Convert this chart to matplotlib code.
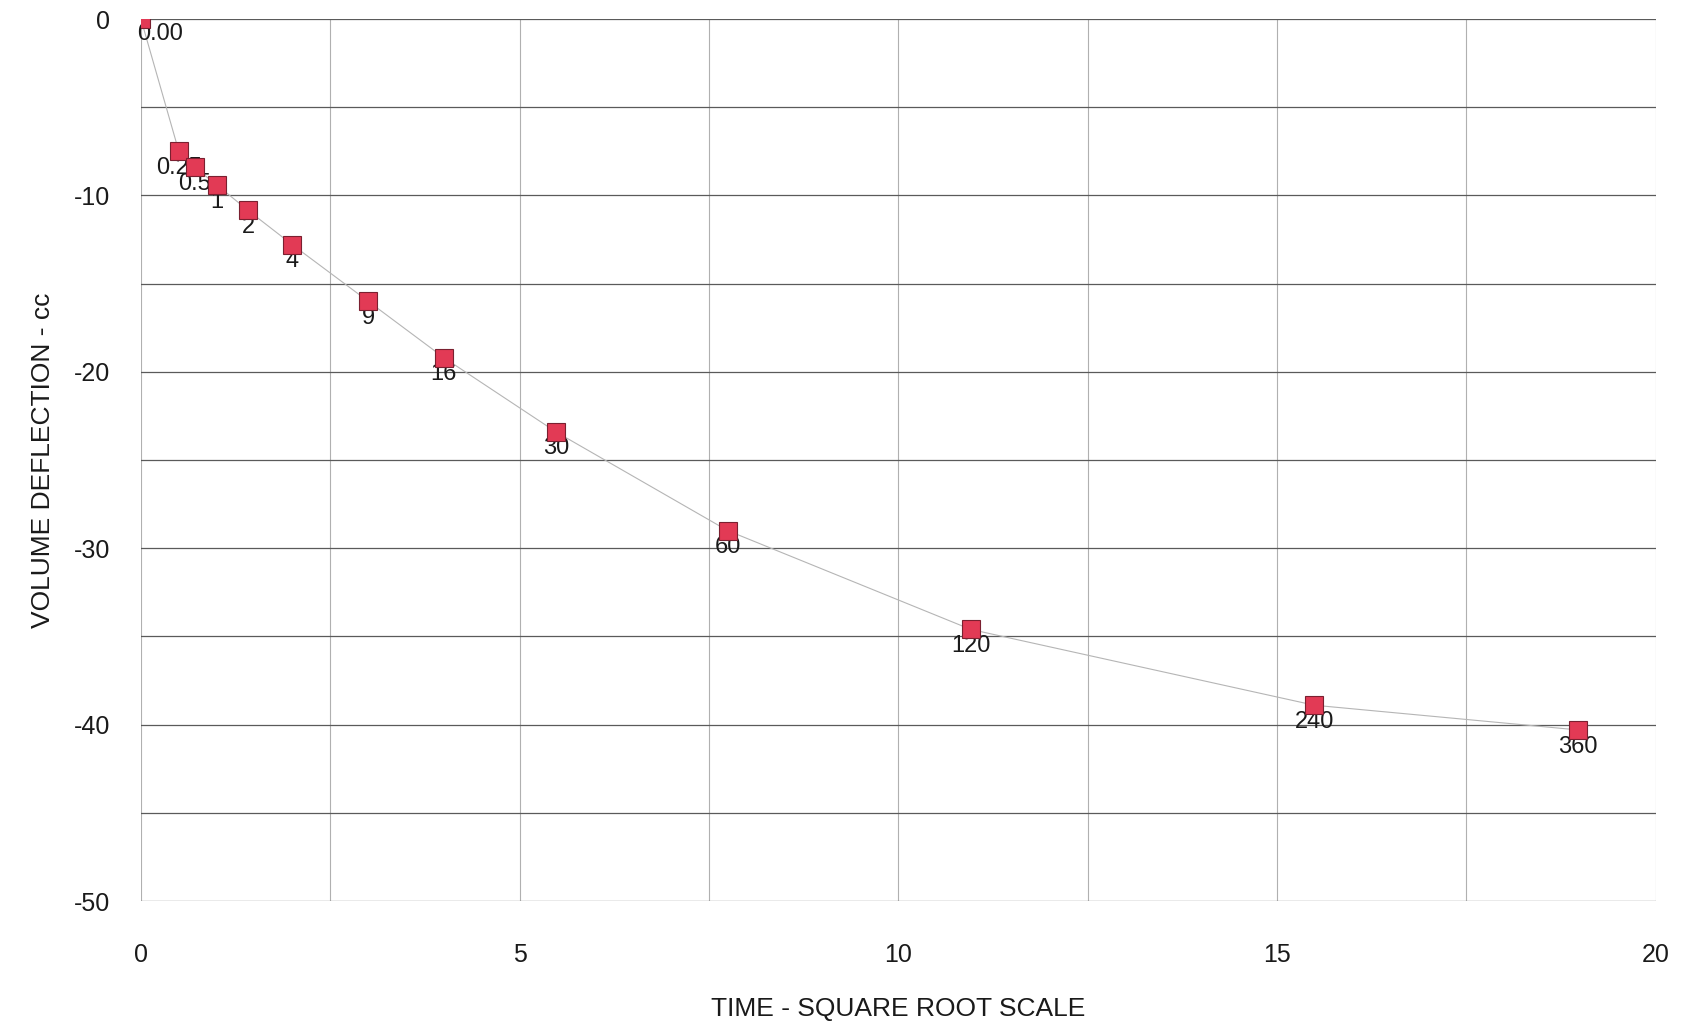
import numpy as np
import matplotlib.pyplot as plt

plt.rcParams['font.family'] = ['Liberation Sans', 'DejaVu Sans']
plt.rcParams['axes.unicode_minus'] = False

# elapsed time (min) and volume deflection (cc)
time_min = [0, 0.25, 0.5, 1, 2, 4, 9, 16, 30, 60, 120, 240, 360]
point_labels = ['0.00', '0.25', '0.5', '1', '2', '4', '9', '16', '30', '60', '120', '240', '360']
deflection = [0.0, -7.5, -8.4, -9.4, -10.85, -12.8, -16.0, -19.2, -23.4, -29.0, -34.6, -38.9, -40.3]

x_ticks = [0, 5, 10, 15, 20]
y_ticks = [0, -10, -20, -30, -40, -50]

x = np.sqrt(np.array(time_min))
y = np.array(deflection)

fig = plt.figure(figsize=(16.86, 10.28), dpi=100)
ax = fig.add_axes([0.0836, 0.1235, 0.8985, 0.858])

# grid every 2.5 on x and every 5 on y
for gx in np.arange(0, 20.01, 2.5):
    ax.axvline(gx, color='#b0b0b0', lw=0.8, zorder=0)
for gy in np.arange(0, -50.01, -5):
    ax.axhline(gy, color='#5a5a5a', lw=0.9, zorder=0)

# thin connecting line through the readings
ax.plot(x, y, color='#b5b5b5', lw=0.8, zorder=1)

# labels sit under the markers
for xi, yi, lab in zip(x, y, point_labels):
    if lab == '0.00':
        ax.annotate(lab, (xi, yi), xytext=(-3, -11), textcoords='offset points',
                    ha='left', va='center', fontsize=17, color='#1a1a1a', zorder=2)
    else:
        ax.annotate(lab, (xi, yi), xytext=(0, -12), textcoords='offset points',
                    ha='center', va='center', fontsize=17, color='#1a1a1a', zorder=2)

ax.plot(x, y, linestyle='none', marker='s', markersize=13,
        markerfacecolor='#e23a55', markeredgecolor='#7a2030', markeredgewidth=0.8, zorder=3)

ax.set_xlim(0, 20)
ax.set_ylim(-50, 0)
ax.set_xticks(x_ticks)
ax.set_yticks(y_ticks)
ax.tick_params(axis='both', length=0, labelsize=18, colors='#1a1a1a')
ax.tick_params(axis='y', pad=22)
ax.tick_params(axis='x', pad=30)
for s in ax.spines.values():
    s.set_visible(False)

ax.set_xlabel('TIME - SQUARE ROOT SCALE', fontsize=19, color='#1a1a1a', labelpad=22)
ax.set_ylabel('VOLUME DEFLECTION - cc', fontsize=19, color='#1a1a1a', labelpad=14)

fig.savefig('out.png', dpi=100)
